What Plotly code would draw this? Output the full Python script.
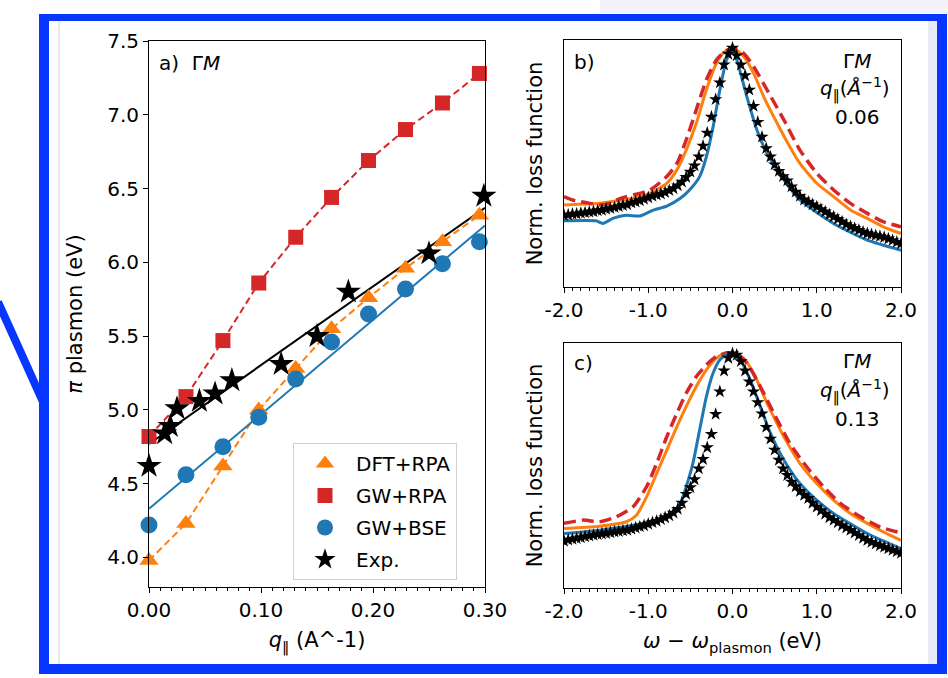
import plotly.graph_objects as go

W, H = 948, 678

# ---------------- panel a) data ----------------
q_calc = [0.0, 0.033, 0.066, 0.098, 0.131, 0.163, 0.196, 0.229, 0.262, 0.295]
dft_rpa = [3.98, 4.23, 4.62, 5.00, 5.28, 5.55, 5.76, 5.96, 6.14, 6.32]
gw_rpa = [4.82, 5.09, 5.47, 5.86, 6.17, 6.44, 6.69, 6.90, 7.08, 7.28]
gw_bse = [4.22, 4.56, 4.75, 4.95, 5.21, 5.46, 5.65, 5.82, 5.99, 6.14]
q_exp = [0.0, 0.014, 0.019, 0.025, 0.045, 0.059, 0.074, 0.118, 0.150, 0.178, 0.250, 0.299]
exp_vals = [4.62, 4.84, 4.89, 5.01, 5.06, 5.11, 5.20, 5.31, 5.50, 5.80, 6.06, 6.45]
fit_q = [0.0, 0.30]
fit_exp = [4.77, 6.37]
fit_bse = [4.33, 6.25]

a_ytickvals = [4.0, 4.5, 5.0, 5.5, 6.0, 6.5, 7.0, 7.5]
a_yticktext = ["4.0", "4.5", "5.0", "5.5", "6.0", "6.5", "7.0", "7.5"]
a_xtickvals = [0.0, 0.1, 0.2, 0.3]
a_xticktext = ["0.00", "0.10", "0.20", "0.30"]
w_tickvals = [-2, -1, 0, 1, 2]
w_ticktext = ["-2.0", "-1.0", "0.0", "1.0", "2.0"]

# ---------------- panel b) q = 0.06 ----------------
b_blue_x = [-2.0, -1.62, -1.54, -1.42, -1.26, -1.10, -0.94, -0.78, -0.62, -0.51, -0.39, -0.31, -0.23,
            -0.15, -0.07, 0.0, 0.05, 0.17, 0.29, 0.41, 0.61, 0.80, 1.20, 1.60, 2.0]
b_blue_y = [0.277, 0.277, 0.266, 0.287, 0.300, 0.297, 0.322, 0.338, 0.371, 0.406, 0.462, 0.545, 0.671,
            0.825, 0.951, 0.990, 0.951, 0.797, 0.657, 0.559, 0.448, 0.364, 0.266, 0.196, 0.154]
b_orange_x = [-2.0, -1.77, -1.58, -1.18, -0.98, -0.78, -0.66, -0.55, -0.43, -0.31, -0.19, -0.11, 0.01,
              0.13, 0.25, 0.37, 0.53, 0.68, 0.80, 1.00, 1.20, 1.40, 1.60, 1.79, 2.0]
b_orange_y = [0.343, 0.347, 0.350, 0.371, 0.392, 0.434, 0.490, 0.573, 0.685, 0.825, 0.937, 0.979, 1.0,
              0.965, 0.895, 0.797, 0.685, 0.587, 0.517, 0.434, 0.378, 0.322, 0.287, 0.252, 0.224]
b_red_x = [-2.0, -1.9, -1.8, -1.69, -1.58, -1.46, -1.38, -1.26, -1.18, -0.98, -0.78, -0.66, -0.55, -0.43,
           -0.31, -0.19, -0.09, 0.01, 0.13, 0.25, 0.41, 0.61, 0.80, 1.00, 1.20, 1.40, 1.60, 1.79, 2.0]
b_red_y = [0.378, 0.364, 0.357, 0.350, 0.343, 0.350, 0.364, 0.378, 0.385, 0.406, 0.462, 0.517, 0.615, 0.741,
           0.867, 0.951, 0.986, 1.0, 0.979, 0.923, 0.825, 0.699, 0.573, 0.476, 0.406, 0.350, 0.308, 0.273, 0.252]
b_exp_x = [-2.00, -1.95, -1.90, -1.85, -1.80, -1.75, -1.70, -1.65, -1.60, -1.55, -1.50, -1.45, -1.40, -1.35,
           -1.30, -1.25, -1.20, -1.15, -1.10, -1.05, -1.00, -0.95, -0.90, -0.85, -0.80, -0.75, -0.70, -0.65,
           -0.60, -0.55, -0.50, -0.45, -0.40, -0.35, -0.30, -0.25, -0.20, -0.15, -0.10, -0.05, 0.00, 0.05,
           0.10, 0.15, 0.20, 0.25, 0.30, 0.35, 0.40, 0.45, 0.50, 0.55, 0.60, 0.65, 0.70, 0.75, 0.80, 0.85,
           0.90, 0.95, 1.00, 1.05, 1.10, 1.15, 1.20, 1.25, 1.30, 1.35, 1.40, 1.45, 1.50, 1.55, 1.60, 1.65,
           1.70, 1.75, 1.80, 1.85, 1.90, 1.95, 2.00]
b_exp_y = [0.300, 0.302, 0.305, 0.306, 0.309, 0.311, 0.314, 0.316, 0.320, 0.322, 0.326, 0.329, 0.333, 0.337,
           0.342, 0.345, 0.352, 0.356, 0.362, 0.368, 0.374, 0.380, 0.386, 0.390, 0.396, 0.404, 0.412, 0.424,
           0.440, 0.460, 0.482, 0.508, 0.545, 0.590, 0.645, 0.712, 0.785, 0.855, 0.930, 0.975, 1.000, 0.968,
           0.930, 0.885, 0.825, 0.757, 0.690, 0.628, 0.580, 0.545, 0.512, 0.485, 0.463, 0.445, 0.420, 0.398,
           0.380, 0.365, 0.356, 0.345, 0.336, 0.325, 0.315, 0.303, 0.294, 0.284, 0.273, 0.262, 0.253, 0.246,
           0.238, 0.230, 0.224, 0.220, 0.216, 0.212, 0.208, 0.202, 0.195, 0.188, 0.182]

# ---------------- panel c) q = 0.13 ----------------
c_blue_x = [-2.0, -1.58, -1.18, -0.78, -0.62, -0.55, -0.47, -0.39, -0.31, -0.23, -0.15, -0.03, 0.09,
            0.21, 0.33, 0.45, 0.61, 0.80, 1.00, 1.20, 1.60, 2.0]
c_blue_y = [0.232, 0.246, 0.267, 0.303, 0.360, 0.431, 0.531, 0.673, 0.815, 0.915, 0.972, 1.0, 0.972,
            0.886, 0.772, 0.659, 0.545, 0.445, 0.374, 0.317, 0.232, 0.168]
c_orange_x = [-2.0, -1.58, -1.26, -1.14, -1.02, -0.90, -0.78, -0.66, -0.55, -0.43, -0.31, -0.19, -0.11,
              0.01, 0.13, 0.25, 0.41, 0.61, 0.80, 1.00, 1.20, 1.40, 1.60, 1.79, 2.0]
c_orange_y = [0.253, 0.263, 0.282, 0.310, 0.388, 0.488, 0.587, 0.687, 0.772, 0.858, 0.929, 0.979, 0.997,
              1.0, 0.979, 0.915, 0.787, 0.644, 0.531, 0.445, 0.374, 0.317, 0.275, 0.239, 0.203]
c_red_x = [-2.0, -1.77, -1.58, -1.38, -1.18, -1.02, -0.90, -0.78, -0.66, -0.55, -0.43, -0.31, -0.19,
           -0.07, 0.05, 0.17, 0.33, 0.49, 0.68, 0.88, 1.08, 1.28, 1.52, 1.75, 2.0]
c_red_y = [0.275, 0.289, 0.282, 0.303, 0.346, 0.431, 0.531, 0.644, 0.744, 0.829, 0.900, 0.950, 0.986,
           1.0, 0.997, 0.957, 0.858, 0.744, 0.616, 0.516, 0.431, 0.360, 0.303, 0.260, 0.235]
c_exp_x = b_exp_x
c_exp_y = [0.200, 0.205, 0.208, 0.211, 0.215, 0.219, 0.222, 0.225, 0.228, 0.231, 0.233, 0.236, 0.239, 0.241,
           0.244, 0.247, 0.251, 0.256, 0.261, 0.266, 0.272, 0.279, 0.285, 0.292, 0.300, 0.308, 0.320, 0.336,
           0.362, 0.400, 0.428, 0.462, 0.508, 0.548, 0.598, 0.655, 0.740, 0.836, 0.925, 0.979, 0.998, 0.992,
           0.965, 0.925, 0.878, 0.836, 0.790, 0.742, 0.685, 0.635, 0.588, 0.545, 0.508, 0.480, 0.452, 0.432,
           0.412, 0.395, 0.382, 0.362, 0.345, 0.330, 0.315, 0.300, 0.289, 0.278, 0.266, 0.256, 0.246, 0.235,
           0.224, 0.213, 0.203, 0.195, 0.188, 0.181, 0.174, 0.168, 0.161, 0.155, 0.149]

ORANGE = "#ff7f0e"
RED = "#d62728"
BLUE = "#1f77b4"
BLACK = "#000000"
FRAME = "#0636ff"
FONT = "DejaVu Sans"
FS_TICK = 20
FS_TITLE = 21
FS_ANN = 20


def px(x):
    return x / W


def py(y):
    return 1 - y / H


fig = go.Figure()

# ---- panel a lines ----
fig.add_trace(go.Scatter(x=q_calc, y=dft_rpa, mode="lines", line=dict(color=ORANGE, width=2, dash="7px,4px"),
                         showlegend=False, xaxis="x", yaxis="y"))
fig.add_trace(go.Scatter(x=q_calc, y=gw_rpa, mode="lines", line=dict(color=RED, width=2, dash="7px,4px"),
                         showlegend=False, xaxis="x", yaxis="y"))
fig.add_trace(go.Scatter(x=fit_q, y=fit_bse, mode="lines", line=dict(color=BLUE, width=2),
                         showlegend=False, xaxis="x", yaxis="y"))
fig.add_trace(go.Scatter(x=fit_q, y=fit_exp, mode="lines", line=dict(color=BLACK, width=2),
                         showlegend=False, xaxis="x", yaxis="y"))
# ---- panel a markers ----
fig.add_trace(go.Scatter(x=q_calc, y=dft_rpa, mode="markers", name="DFT+RPA", legendgroup="a",
                         marker=dict(symbol="triangle-up", size=17, color=ORANGE), cliponaxis=False,
                         xaxis="x", yaxis="y"))
fig.add_trace(go.Scatter(x=q_calc, y=gw_rpa, mode="markers", name="GW+RPA", legendgroup="b",
                         marker=dict(symbol="square", size=15, color=RED), cliponaxis=False,
                         xaxis="x", yaxis="y"))
fig.add_trace(go.Scatter(x=q_calc, y=gw_bse, mode="markers", name="GW+BSE", legendgroup="c",
                         marker=dict(symbol="circle", size=17, color=BLUE), cliponaxis=False,
                         xaxis="x", yaxis="y"))
fig.add_trace(go.Scatter(x=q_exp, y=exp_vals, mode="markers", name="Exp.", legendgroup="d",
                         marker=dict(symbol="star", size=19, color=BLACK), cliponaxis=False,
                         xaxis="x", yaxis="y"))

# ---- panels b and c ----
for (xa, ya, ox, oy, rx, ry, bx, by, ex, ey) in [
    ("x2", "y2", b_orange_x, b_orange_y, b_red_x, b_red_y, b_blue_x, b_blue_y, b_exp_x, b_exp_y),
    ("x3", "y3", c_orange_x, c_orange_y, c_red_x, c_red_y, c_blue_x, c_blue_y, c_exp_x, c_exp_y),
]:
    fig.add_trace(go.Scatter(x=ox, y=oy, mode="lines", line=dict(color=ORANGE, width=3, shape="spline", smoothing=0.6),
                             showlegend=False, xaxis=xa, yaxis=ya))
    fig.add_trace(go.Scatter(x=rx, y=ry, mode="lines",
                             line=dict(color=RED, width=3.5, dash="12px,6px", shape="spline", smoothing=0.6),
                             showlegend=False, xaxis=xa, yaxis=ya))
    fig.add_trace(go.Scatter(x=bx, y=by, mode="lines", line=dict(color=BLUE, width=3, shape="spline", smoothing=0.6),
                             showlegend=False, xaxis=xa, yaxis=ya))
    fig.add_trace(go.Scatter(x=ex, y=ey, mode="markers", marker=dict(symbol="star", size=10, color=BLACK),
                             showlegend=False, xaxis=xa, yaxis=ya))

tickfont = dict(family=FONT, size=FS_TICK, color="black")
axis_common = dict(showline=True, linecolor="black", linewidth=1, mirror=True, showgrid=False, zeroline=False,
                   ticks="outside", ticklen=5, tickcolor="black", tickfont=tickfont)
yaxis_right = dict(showticklabels=False, ticks="", showline=True, linecolor="black", linewidth=1, mirror=True,
                   showgrid=False, zeroline=False)

PAR = "‖"

fig.update_layout(
    width=W, height=H, margin=dict(l=0, r=0, t=0, b=0, autoexpand=False),
    paper_bgcolor="white", plot_bgcolor="white",
    font=dict(family=FONT, size=FS_TICK, color="black"),
    xaxis=dict(domain=[px(149), px(485)], range=[0, 0.30], tickvals=a_xtickvals, ticktext=a_xticktext,
               minor=dict(ticks="outside", ticklen=3, tick0=0, dtick=0.01, tickcolor="black"),
               title=dict(text="<i>q</i><sub>" + PAR + "</sub> (A^-1)", font=dict(size=FS_TITLE), standoff=11),
               anchor="y", **axis_common),
    yaxis=dict(domain=[py(587), py(41)], range=[3.8, 7.5], tickvals=a_ytickvals, ticktext=a_yticktext,
               title=dict(text="<i>π</i> plasmon (eV)", font=dict(size=FS_TITLE), standoff=18),
               anchor="x", **axis_common),
    xaxis2=dict(domain=[px(564), px(901)], range=[-2, 2], tickvals=w_tickvals, ticktext=w_ticktext,
                minor=dict(ticks="outside", ticklen=3, tick0=0, dtick=0.1, tickcolor="black"),
                anchor="y2", **axis_common),
    yaxis2=dict(domain=[py(287), py(40)], range=[0, 1.0335],
                title=dict(text="Norm. loss function", font=dict(size=FS_TITLE), standoff=14), anchor="x2",
                **yaxis_right),
    xaxis3=dict(domain=[px(564), px(901)], range=[-2, 2], tickvals=w_tickvals, ticktext=w_ticktext,
                minor=dict(ticks="outside", ticklen=3, tick0=0, dtick=0.1, tickcolor="black"),
                title=dict(text="<i>ω</i> − <i>ω</i><sub>plasmon</sub> (eV)", font=dict(size=FS_TITLE), standoff=11),
                anchor="y3", **axis_common),
    yaxis3=dict(domain=[py(588), py(343)], range=[0, 1.043],
                title=dict(text="Norm. loss function", font=dict(size=FS_TITLE), standoff=14), anchor="x3",
                **yaxis_right),
    legend=dict(x=px(293), y=py(443), xanchor="left", yanchor="top", bgcolor="white",
                bordercolor="#d0d0d0", borderwidth=1, font=dict(family=FONT, size=20),
                tracegroupgap=3, itemwidth=52),
)

# ---- text annotations ----
ann = [
    (157, 63, "a)  Γ<i>M</i>", "left"),
    (572, 62, "b)", "left"),
    (857, 61, "Γ<i>M</i>", "center"),
    (855, 89, "<i>q</i><sub>" + PAR + "</sub>(<i>Å</i><sup>−1</sup>)", "center"),
    (857, 117, "0.06", "center"),
    (572, 363, "c)", "left"),
    (857, 361, "Γ<i>M</i>", "center"),
    (855, 391, "<i>q</i><sub>" + PAR + "</sub>(<i>Å</i><sup>−1</sup>)", "center"),
    (857, 419, "0.13", "center"),
]
for x, y, t, al in ann:
    fig.add_annotation(x=px(x), y=py(y), xref="paper", yref="paper", text=t, showarrow=False,
                       xanchor=al, yanchor="middle", font=dict(family=FONT, size=FS_ANN, color="black"))

# ---- slide frame decoration ----
shapes = [
    dict(type="rect", x0=px(600), x1=1, y0=py(13), y1=1, fillcolor="#f3f4fb", line=dict(width=0), layer="below"),
    dict(type="rect", x0=px(928), x1=px(938), y0=py(664), y1=py(20), fillcolor="#e9ebf9", line=dict(width=0), layer="below"),
    dict(type="line", x0=px(59), x1=px(59), y0=py(664), y1=py(21), line=dict(color="#d4d4d4", width=1), layer="below"),
    dict(type="line", x0=px(-2), y0=py(302), x1=px(44), y1=py(404), line=dict(color=FRAME, width=8)),
    dict(type="rect", x0=px(39), x1=px(49), y0=py(674), y1=py(14), fillcolor=FRAME, line=dict(width=0)),
    dict(type="rect", x0=px(39), x1=px(947), y0=py(21), y1=py(14), fillcolor=FRAME, line=dict(width=0)),
    dict(type="rect", x0=px(937), x1=px(947), y0=py(674), y1=py(14), fillcolor=FRAME, line=dict(width=0)),
    dict(type="rect", x0=px(39), x1=px(947), y0=py(674), y1=py(664), fillcolor=FRAME, line=dict(width=0)),
]
for s in shapes:
    fig.add_shape(xref="paper", yref="paper", **s)

fig.write_html("out.html", config={"displayModeBar": False},
               post_script="document.body.style.margin='0';document.body.style.overflow='hidden';")
